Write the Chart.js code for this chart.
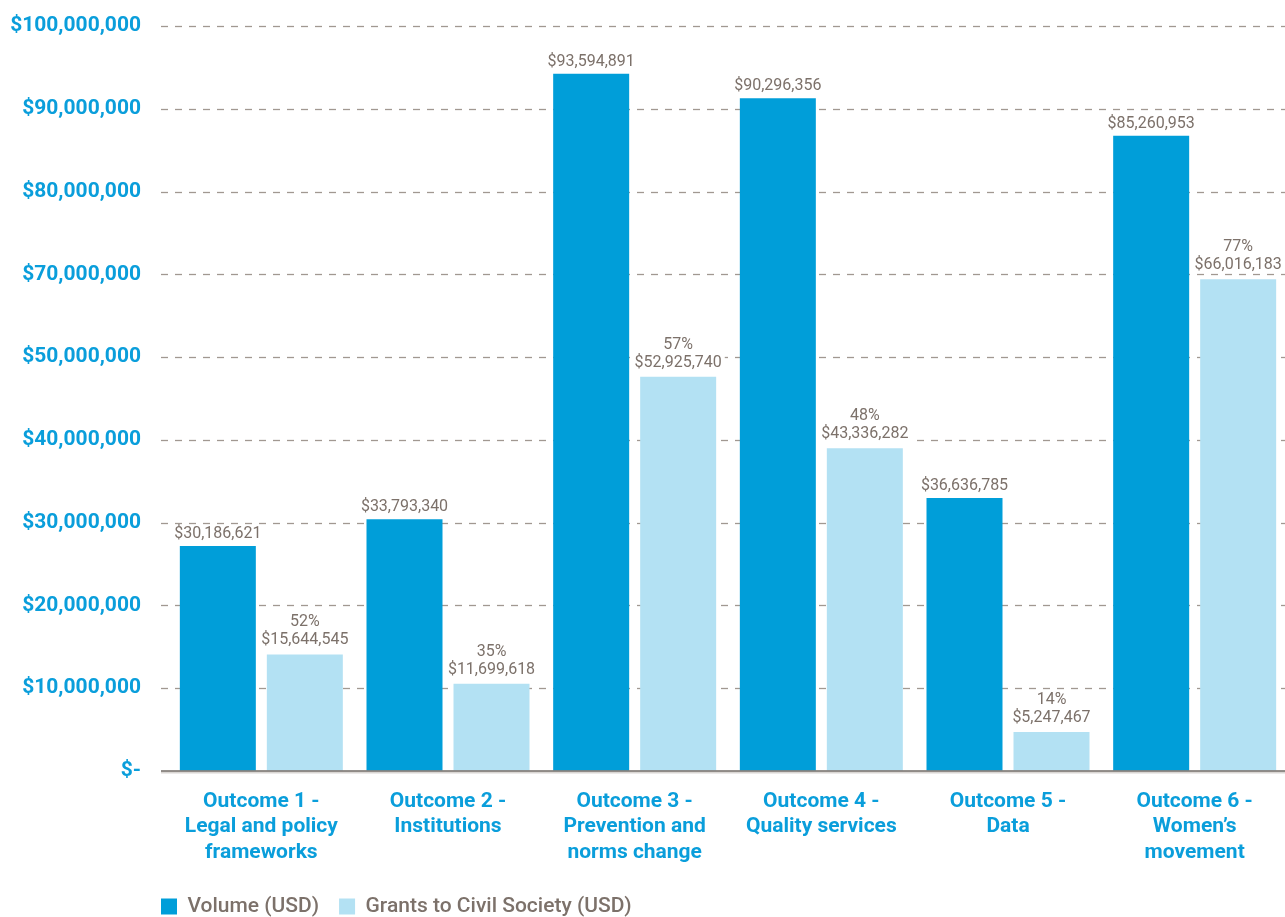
<!DOCTYPE html>
<html><head><meta charset="utf-8">
<script src="https://cdn.jsdelivr.net/npm/chart.js@4.4.0/dist/chart.umd.min.js"></script>
<style>html,body{margin:0;padding:0;overflow:hidden;background:#fff}#wrap{width:1288px;height:917px;position:relative}</style>
</head><body><div id="wrap"><canvas id="c"></canvas></div>
<script>
const categories = [
  ["Outcome 1 -", "Legal and policy", "frameworks"],
  ["Outcome 2 -", "Institutions"],
  ["Outcome 3 -", "Prevention and", "norms change"],
  ["Outcome 4 -", "Quality services"],
  ["Outcome 5 -", "Data"],
  ["Outcome 6 -", "Women\u2019s", "movement"]
];
const volume = [30186621, 33793340, 93594891, 90296356, 36636785, 85260953];
const grants = [15644545, 11699618, 52925740, 43336282, 5247467, 66016183];
const grantShare = ["52%", "35%", "57%", "48%", "14%", "77%"];
const yTickLabels = ["$-", "$10,000,000", "$20,000,000", "$30,000,000", "$40,000,000",
  "$50,000,000", "$70,000,000", "$80,000,000", "$90,000,000", "$100,000,000"];
const seriesNames = ["Volume (USD)", "Grants to Civil Society (USD)"];

const BLUE = "#009ed9";
const LIGHT = "#b3e1f3";
const TEXTBLUE = "#0a9edb";
const GREY = "#7c716a";
const FONT = "Roboto, 'Noto Sans', sans-serif";

const fmt = v => "$" + v.toLocaleString("en-US");

const gridPlugin = {
  id: "gridPlugin",
  beforeDatasetsDraw(chart) {
    const ys = chart.scales.y, ctx = chart.ctx;
    ctx.save();
    ctx.strokeStyle = "#a19891";
    ctx.lineWidth = 1.3;
    ctx.setLineDash([7, 7]);
    ys.ticks.forEach(t => {
      if (t.value === 0) return;
      const y = Math.round(ys.getPixelForValue(t.value)) + 0.5;
      ctx.beginPath(); ctx.moveTo(161, y); ctx.lineTo(chart.width, y); ctx.stroke();
    });
    ctx.restore();
  },
  afterDatasetsDraw(chart) {
    const ys = chart.scales.y, ctx = chart.ctx;
    const y = ys.getPixelForValue(0);
    ctx.save();
    ctx.strokeStyle = "#d9d6d3"; ctx.lineWidth = 3;
    ctx.beginPath(); ctx.moveTo(161, y + 1); ctx.lineTo(chart.width, y + 1); ctx.stroke();
    ctx.strokeStyle = "#77726e"; ctx.lineWidth = 1.5;
    ctx.beginPath(); ctx.moveTo(161, y); ctx.lineTo(chart.width, y); ctx.stroke();
    ctx.restore();
  }
};

const labelPlugin = {
  id: "labelPlugin",
  afterDatasetsDraw(chart) {
    const ctx = chart.ctx;
    ctx.save();
    ctx.font = "16px " + FONT;
    ctx.textAlign = "center";
    ctx.textBaseline = "alphabetic";
    chart.data.datasets.forEach((ds, di) => {
      const meta = chart.getDatasetMeta(di);
      meta.data.forEach((el, i) => {
        const lines = di === 0 ? [fmt(ds.data[i])] : [grantShare[i], fmt(ds.data[i])];
        const lh = 18;
        const base = el.y - (di === 0 ? 8 : 10);
        const w = Math.max(...lines.map(l => ctx.measureText(l).width));
        const topY = base - (lines.length - 1) * lh - 13;
        ctx.fillStyle = "#ffffff";
        ctx.fillRect(el.x - w / 2 - 3, topY, w + 6, base + 4 - topY);
        ctx.fillStyle = GREY;
        lines.forEach((l, k) => {
          ctx.fillText(l, el.x, base - (lines.length - 1 - k) * lh);
        });
      });
    });
    ctx.restore();
  }
};

const legendShift = {
  id: "legendShift",
  afterLayout(chart) {
    const lg = chart.legend;
    if (lg) { lg.left = 141; lg.top += 10; lg.bottom += 10; }
  }
};

new Chart(document.getElementById("c"), {
  type: "bar",
  data: {
    labels: categories,
    datasets: [
      { label: seriesNames[0], data: volume, backgroundColor: BLUE,
        categoryPercentage: 0.9321, barPercentage: 0.8736 },
      { label: seriesNames[1], data: grants, backgroundColor: LIGHT,
        categoryPercentage: 0.9321, barPercentage: 0.8736 }
    ]
  },
  options: {
    responsive: true,
    maintainAspectRatio: false,
    animation: false,
    layout: { padding: { top: 26, left: 0, right: 0, bottom: 0 } },
    plugins: {
      legend: {
        position: "bottom",
        align: "start",
        labels: {
          boxWidth: 16, boxHeight: 16, padding: 20,
          color: GREY,
          font: { family: FONT, size: 21, weight: "500" }
        }
      },
      tooltip: { enabled: false }
    },
    scales: {
      x: {
        grid: { display: false, drawTicks: false },
        border: { display: false },
        ticks: {
          color: TEXTBLUE, padding: 18, maxRotation: 0, autoSkip: false,
          font: { family: FONT, size: 21, weight: "bold", lineHeight: 1.214 }
        },
        afterFit(scale) { scale.height = 95; }
      },
      y: {
        min: 0, max: 100000000,
        grid: { display: false, drawTicks: false },
        border: { display: false },
        afterBuildTicks(scale) {
          scale.ticks = yTickLabels.map((_, i) => ({ value: i * 100000000 / (yTickLabels.length - 1) }));
        },
        ticks: {
          color: TEXTBLUE, padding: 27,
          font: { family: FONT, size: 21, weight: "bold" },
          callback: (v, i) => yTickLabels[i]
        },
        afterFit(scale) { scale.width = 168; scale.paddingTop = 0; scale.paddingBottom = 0; }
      }
    }
  },
  plugins: [gridPlugin, labelPlugin, legendShift]
});
</script>
</body></html>
